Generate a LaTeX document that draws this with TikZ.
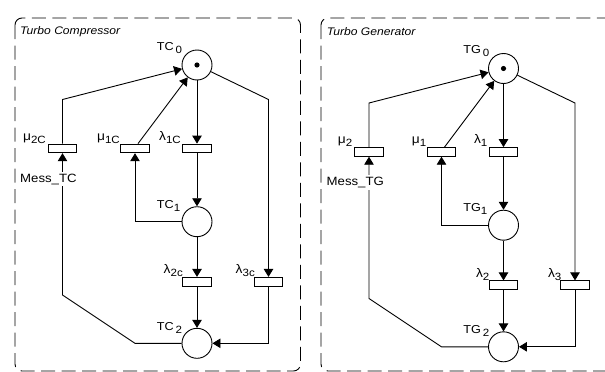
\documentclass[tikz,border=0pt]{standalone}
\usepackage{fontspec}
\setmainfont{Liberation Sans}[FakeStretch=1.1]
\usetikzlibrary{arrows.meta}
\newcommand\sbs[1]{\raisebox{-3pt}{\fontsize{10.5}{11}\selectfont #1}}
\tikzset{
  place/.style={circle, draw, line width=0.9pt, minimum size=30pt, inner sep=0pt},
  trans/.style={rectangle, draw, line width=0.9pt, minimum width=28.5pt, minimum height=8.7pt, inner sep=0pt, fill=white},
  arc/.style={line width=0.9pt, -{Triangle[length=8pt,width=9.5pt]}},
  lbl/.style={inner sep=0pt, font=\fontsize{11.5}{12}\selectfont},
  panelbox/.style={line width=0.9pt, dash pattern=on 14pt off 6.5pt, rounded corners=7pt},
  ttl/.style={inner sep=0pt, anchor=base west, font=\itshape\fontsize{11}{12}\selectfont},
}
% #1 prefix, #2 place name, #3 mu2 sub, #4 mu1 sub, #5 lam1 sub, #6 lam2 sub, #7 lam3 sub, #8 message text
\newcommand\petrinet[8]{%
  \node[place] (#1p0) at (197,65) {};
  \fill (#1p0) circle (2.6pt);
  \node[place] (#1p1) at (197,221.7) {};
  \node[place] (#1p2) at (197,343.3) {};
  \node[trans] (#1m2) at (62.5,148.4) {};
  \node[trans] (#1m1) at (135,148.4) {};
  \node[trans] (#1l1) at (197,148.4) {};
  \node[trans] (#1l2) at (197,281.7) {};
  \node[trans] (#1l3) at (268.5,281.7) {};
  % place labels
  \node[lbl, anchor=base west] (#1t0) at (156.7,50) {#2\,\sbs{0}};
  \node[lbl, anchor=base west] (#1t1) at (156.7,208.3) {#2\sbs{1}};
  \node[lbl, anchor=base west] (#1t2) at (156.7,330) {#2\,\sbs{2}};
  % transition labels
  \node[lbl, anchor=base east] (#1n2) at (46,140) {\fontsize{12.5}{13}\selectfont μ\sbs{#3}};
  \node[lbl, anchor=base east] (#1n1) at (120,140) {\fontsize{12.5}{13}\selectfont μ\sbs{#4}};
  \node[lbl, anchor=base east] (#1k1) at (181,140) {\fontsize{12.5}{13}\selectfont λ\sbs{#5}};
  \node[lbl, anchor=base east] (#1k2) at (183,273.5) {\fontsize{12.5}{13}\selectfont λ\sbs{#6}};
  \node[lbl, anchor=base east] (#1k3) at (255,273.5) {\fontsize{12.5}{13}\selectfont λ\sbs{#7}};
  % arcs
  \draw[arc] (#1m2.north) -- (62.5,99.5) -- (#1p0);
  \draw[arc] ([xshift=3pt]#1m1.north) -- (#1p0);
  \draw[arc] (#1p0) -- (#1l1.north);
  \draw[arc] (#1p0) -- (268.5,99.5) -- (#1l3.north);
  \draw[arc] (#1l1.south) -- (#1p1);
  \draw[arc] (#1p1.west) -- (#1m1.south |- #1p1.west) -- (#1m1.south);
  \draw[arc] (#1p1) -- (#1l2.north);
  \draw[arc] (#1l2.south) -- (#1p2);
  \draw[arc] (#1l3.south) |- (#1p2.east);
  \draw[arc] (#1p2.west) -- (135,343.3) -- (62.5,295) -- (#1m2.south);
  \node[lbl, anchor=base west, fill=white, inner sep=2pt, font=\fontsize{12}{12}\selectfont] (#1ms) at (18,182) {#8};
}
\begin{document}
\begin{tikzpicture}[x=1pt, y=-1pt]
  \useasboundingbox (0,0) rectangle (605,372);
  \clip (0,0) rectangle (605,372);
  \draw[panelbox] (15,18) rectangle (300.5,371);
  \draw[panelbox] (321,18) rectangle (613,371);
  \node[ttl] (title1) at (20,34) {Turbo Compressor};
  \node[ttl] (title2) at (326.7,35) {Turbo Generator};
  \begin{scope}
    \petrinet{c}{TC}{2C}{1C}{1C}{2c}{3c}{Mess\_TC}
  \end{scope}
  \begin{scope}[shift={(306.5,3.5)}]
    \petrinet{g}{TG}{2}{1}{1}{2}{3}{Mess\_TG}
  \end{scope}
\end{tikzpicture}
\end{document}
